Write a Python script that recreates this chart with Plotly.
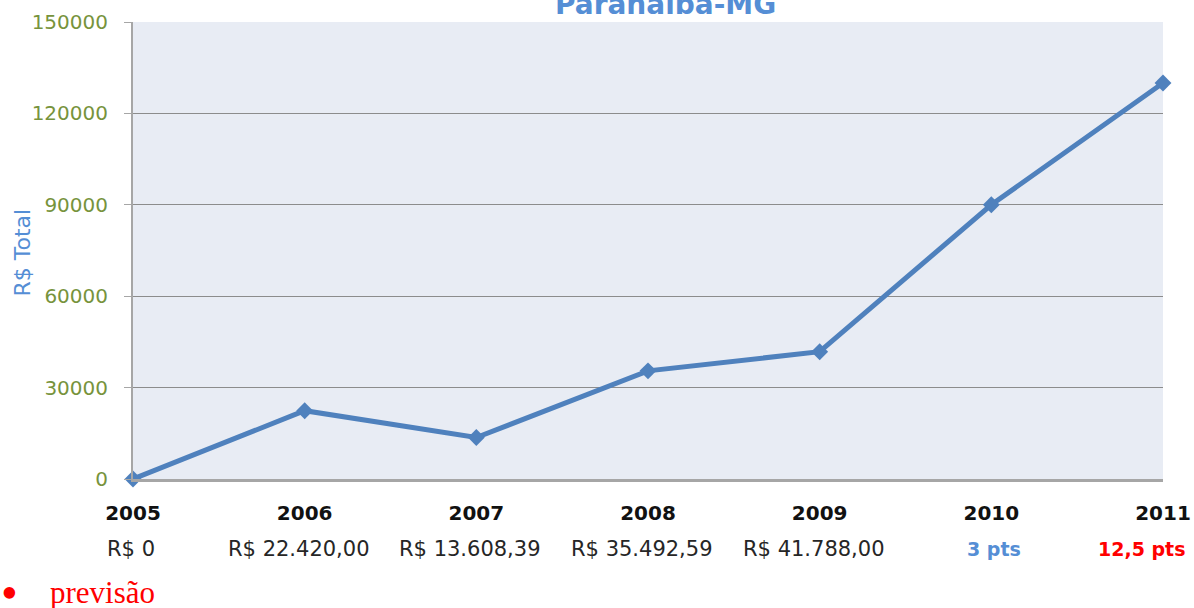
import plotly.graph_objects as go

years = [2005, 2006, 2007, 2008, 2009, 2010, 2011]
totals = [0, 22420.00, 13608.39, 35492.59, 41788.00, 90000, 130000]
value_labels = ["R$ 0", "R$ 22.420,00", "R$ 13.608,39", "R$ 35.492,59",
                "R$ 41.788,00", "3 pts", "12,5 pts"]
value_colors = ["#262626", "#262626", "#262626", "#262626", "#262626", "#558ED5", "#FF0000"]
value_bold = [False, False, False, False, False, True, True]
y_ticks = [0, 30000, 60000, 90000, 120000, 150000]

FONT = "DejaVu Sans"

fig = go.Figure()
fig.add_trace(go.Scatter(
    x=years, y=totals, mode="lines+markers",
    line=dict(color="#4F81BD", width=5),
    marker=dict(symbol="diamond", size=13, color="#4F81BD"),
    cliponaxis=False, showlegend=False, hoverinfo="skip",
))

annotations = []
for yr, lab, col, b in zip(years, value_labels, value_colors, value_bold):
    txt = f"<b>{lab}</b>" if b else lab
    anchor = "center"
    xs = -6 if not b else 3
    if yr == years[0]:
        xs = -2
    if yr == years[-1]:
        anchor = "right"
        xs = 25
    annotations.append(dict(
        x=yr, xref="x", y=0, yref="paper", yanchor="middle", yshift=-70,
        xanchor=anchor, xshift=xs,
        text=txt, showarrow=False,
        font=dict(family=FONT, size=19 if b else 21, color=col),
    ))

annotations.append(dict(
    x=0.517, xref="paper", y=1, yref="paper", yanchor="bottom", yshift=-1,
    text="<b>Paranaíba-MG</b>", showarrow=False,
    font=dict(family=FONT, size=28, color="#558ED5"),
))
annotations.append(dict(
    x=0, xref="paper", xanchor="center", xshift=-111, y=0.5, yref="paper",
    yanchor="middle", yshift=-2,
    text="R$ Total", textangle=-90, showarrow=False,
    font=dict(family=FONT, size=22, color="#558ED5"),
))
annotations.append(dict(
    x=0, xref="paper", xanchor="center", xshift=-124, y=0, yref="paper",
    yanchor="middle", yshift=-113,
    text="•", showarrow=False,
    font=dict(family="Liberation Serif", size=48, color="#FF0000"),
))
annotations.append(dict(
    x=0, xref="paper", xanchor="left", xshift=-85, y=0, yref="paper",
    yanchor="middle", yshift=-113,
    text="previsão", showarrow=False,
    font=dict(family="Liberation Serif", size=31, color="#FF0000"),
))

fig.update_layout(
    width=1194, height=608,
    margin=dict(l=133, r=31, t=22, b=129, autoexpand=False),
    paper_bgcolor="white", plot_bgcolor="#E8ECF4",
    annotations=annotations,
    xaxis=dict(
        range=[2005, 2011], tickmode="array", tickvals=years,
        ticktext=[f"<b>{y}</b>" for y in years],
        tickfont=dict(family=FONT, size=20, color="#111111"),
        showgrid=False, zeroline=False, showline=True, automargin=False,
        linecolor="#A6A6A6", linewidth=2.5, ticks="", ticklabelstandoff=14,
    ),
    yaxis=dict(
        range=[0, 150000], tickmode="array", tickvals=y_ticks,
        ticktext=[str(v) for v in y_ticks],
        tickfont=dict(family=FONT, size=20, color="#77933C"),
        showgrid=True, gridcolor="#8C8C8C", gridwidth=1.2, automargin=False,
        zeroline=False, showline=True, linecolor="#A6A6A6", linewidth=2,
        ticks="outside", ticklen=7, tickcolor="#A6A6A6", ticklabelstandoff=12,
    ),
)

fig.write_html(
    "out.html",
    config={"displayModeBar": False},
    post_script="document.body.style.margin='0';document.body.style.overflow='hidden';",
)
